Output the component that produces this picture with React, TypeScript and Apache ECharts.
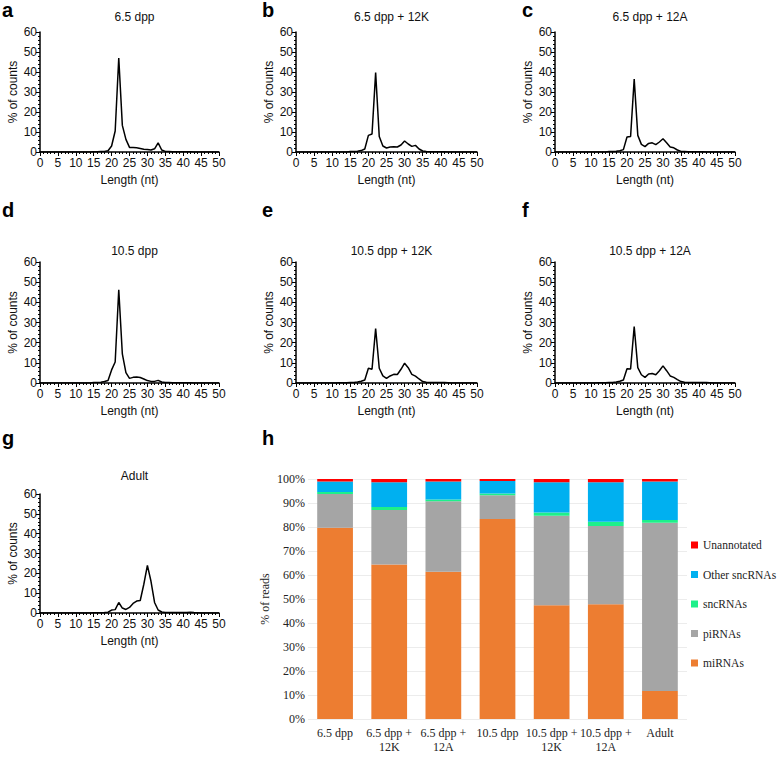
import React, { useEffect, useRef } from "react";
import * as echarts from "echarts";

// Length distribution panels (x = read length 0..50 nt)
const LENGTHS = [0,1,2,3,4,5,6,7,8,9,10,11,12,13,14,15,16,17,18,19,20,21,22,23,24,25,26,27,28,29,30,31,32,33,34,35,36,37,38,39,40,41,42,43,44,45,46,47,48,49,50];
const X_TICKS = [0, 5, 10, 15, 20, 25, 30, 35, 40, 45, 50];
const Y_TICKS = [0, 10, 20, 30, 40, 50, 60];

const PANEL_TITLES = ["6.5 dpp", "6.5 dpp + 12K", "6.5 dpp + 12A", "10.5 dpp", "10.5 dpp + 12K", "10.5 dpp + 12A", "Adult"];
const PANEL_LETTERS = ["a", "b", "c", "d", "e", "f", "g"];

const A_6_5 = [0,0,0,0,0,0,0,0,0,0, 0,0,0,0,0,0.1,0.1,0.2,0.3,0.6, 3,10.5,47,13.3,6.3,2.3,2.2,2.1,1.8,1.4, 1.2,1,1.6,4.6,1,0.3,0.2,0.1,0.1,0.1, 0.1,0.1,0.1,0,0,0,0,0,0,0, 0];
const B_6_5_12K = [0,0,0,0,0,0,0,0,0,0, 0,0,0,0,0,0.2,0.3,0.4,0.7,1.5, 8.3,9,39.7,7.7,3,2,2.5,2.6,2.5,3.5, 5.5,4,2.8,3.3,1.5,0.5,0.2,0.1,0.1,0.1, 0.1,0.1,0,0,0,0,0,0,0,0, 0];
const C_6_5_12A = [0,0,0,0,0,0,0,0,0,0, 0,0,0,0,0,0.2,0.3,0.4,0.6,1.2, 7.5,7.8,36.5,8.3,3.8,2.7,4.3,4.6,3.7,5, 6.6,4.6,2.5,2.1,1,0.3,0.2,0.1,0.1,0.1, 0.1,0.1,0,0,0,0,0,0,0,0, 0];
const D_10_5 = [0,0,0,0,0,0,0,0,0,0, 0,0,0,0,0,0.2,0.3,0.4,0.7,1.2, 6.5,10.4,46.2,14.4,5.1,2.3,2.8,3,2.7,2, 1.2,0.8,0.8,1.3,0.5,0.3,0.2,0.1,0.1,0.1, 0.1,0.1,0.1,0,0,0,0,0,0,0, 0];
const E_10_5_12K = [0,0,0,0,0,0,0,0,0,0, 0,0,0.1,0.1,0.1,0.2,0.3,0.5,0.9,1.5, 7.3,6.8,27,7.3,3.5,2.3,3.5,4.3,4.2,6.8, 9.8,7.6,4.3,3.4,2,0.7,0.4,0.3,0.2,0.2, 0.2,0.2,0.1,0,0,0,0,0,0,0, 0];
const F_10_5_12A = [0,0,0,0,0,0,0,0,0,0, 0,0,0.1,0.1,0.1,0.2,0.3,0.5,0.9,1.5, 7.1,7,28,7.6,4.1,2.8,4.5,4.7,4.1,6.1, 8.5,6.1,3.5,2.8,1.7,0.7,0.4,0.3,0.2,0.2, 0.2,0.2,0.2,0.1,0,0,0,0,0,0, 0];
const G_ADULT = [0,0,0,0,0,0,0,0,0,0, 0,0,0,0,0,0.1,0.1,0.1,0.2,0.4, 1.5,1.7,5.3,2.5,1.8,2.8,4.8,6,6.3,14.5, 24,16,5.3,1.5,0.5,0.3,0.2,0.2,0.2,0.2, 0.2,0.2,0.4,0.2,0.1,0,0,0,0,0, 0];
const LINE_SERIES = [A_6_5, B_6_5_12K, C_6_5_12A, D_10_5, E_10_5_12K, F_10_5_12A, G_ADULT];

// Panel h: stacked composition (% of reads)
const SAMPLES = ["6.5 dpp", "6.5 dpp +\n12K", "6.5 dpp +\n12A", "10.5 dpp", "10.5 dpp +\n12K", "10.5 dpp +\n12A", "Adult"];
const MIRNAS = [79.7, 64.4, 61.4, 83.3, 47.4, 47.8, 11.7];
const PIRNAS = [14.1, 22.7, 29.3, 9.9, 37.3, 32.6, 70.1];
const SNCRNAS = [0.8, 1.2, 0.8, 0.8, 1.3, 1.8, 1.1];
const OTHER_SNCRNAS = [4.4, 10.3, 7.5, 5.2, 12.6, 16.4, 16.1];
const UNANNOTATED = [1.0, 1.4, 1.0, 0.8, 1.4, 1.4, 1.0];
const STACK_NAMES = ["miRNAs", "piRNAs", "sncRNAs", "Other sncRNAs", "Unannotated"];
const STACK_COLORS = ["#ED7D31", "#A5A5A5", "#1EF08A", "#00B0F0", "#FF0000"];
const STACK_VALUES = [MIRNAS, PIRNAS, SNCRNAS, OTHER_SNCRNAS, UNANNOTATED];

const SANS = "Liberation Sans, Arial, sans-serif";
const SERIF = "Liberation Serif, Times New Roman, serif";

// Layout of the seven line panels
const GRIDS = [
  { left: 40, top: 32, width: 179, height: 120 },
  { left: 296, top: 32, width: 181, height: 120 },
  { left: 555, top: 32, width: 180, height: 120 },
  { left: 40, top: 262, width: 179, height: 121 },
  { left: 296, top: 262, width: 181, height: 121 },
  { left: 555, top: 262, width: 180, height: 121 },
  { left: 40, top: 494, width: 179, height: 119 },
];
const TITLE_Y = [6, 6, 6, 240, 240, 240, 465];
const LETTER_POS = [
  { x: 2, y: 0 }, { x: 262, y: 0 }, { x: 522, y: 0 },
  { x: 2, y: 200 }, { x: 262, y: 200 }, { x: 522, y: 200 },
  { x: 2, y: 428 },
];

export default function App() {
  const ref = useRef<HTMLDivElement>(null);
  useEffect(() => {
    document.body.style.margin = "0";
    if (!ref.current) return;
    const chart = echarts.init(ref.current, null, { renderer: "svg" });

    const grid: any[] = [];
    const xAxis: any[] = [];
    const yAxis: any[] = [];
    const series: any[] = [];
    const title: any[] = [];
    const graphic: any[] = [];

    GRIDS.forEach((g, i) => {
      grid.push({ ...g });
      xAxis.push({
        type: "value",
        gridIndex: i,
        min: X_TICKS[0],
        max: X_TICKS[X_TICKS.length - 1],
        interval: 5,
        name: "Length (nt)",
        nameLocation: "middle",
        nameGap: 22,
        nameTextStyle: { fontFamily: SANS, fontSize: 12, color: "#111" },
        axisLine: { lineStyle: { color: "#000", width: 1.5 } },
        axisTick: { length: 4, lineStyle: { color: "#000", width: 1 } },
        minorTick: { show: true, splitNumber: 5, length: 2, lineStyle: { color: "#000", width: 1 } },
        axisLabel: { fontFamily: SANS, fontSize: 12, color: "#111", margin: 5 },
        splitLine: { show: false },
      });
      yAxis.push({
        type: "value",
        gridIndex: i,
        min: Y_TICKS[0],
        max: Y_TICKS[Y_TICKS.length - 1],
        interval: 10,
        name: "% of counts",
        nameLocation: "middle",
        nameGap: 21,
        nameTextStyle: { fontFamily: SANS, fontSize: 12, color: "#111" },
        axisLine: { show: true, lineStyle: { color: "#000", width: 1.5 } },
        axisTick: { show: true, length: 4, lineStyle: { color: "#000", width: 1 } },
        minorTick: { show: true, splitNumber: 5, length: 2, lineStyle: { color: "#000", width: 1 } },
        axisLabel: { fontFamily: SANS, fontSize: 12, color: "#111", margin: 3 },
        splitLine: { show: false },
      });
      series.push({
        type: "line",
        xAxisIndex: i,
        yAxisIndex: i,
        data: LENGTHS.map((x, k) => [x, LINE_SERIES[i][k]]),
        showSymbol: false,
        symbol: "none",
        lineStyle: { color: "#000", width: 1.5 },
        silent: true,
      });
      title.push({
        text: PANEL_TITLES[i],
        left: g.left + g.width / 2,
        top: TITLE_Y[i],
        textAlign: "center",
        textStyle: { fontFamily: SANS, fontSize: 12, fontWeight: "normal", color: "#111" },
      });
      graphic.push({
        type: "text",
        left: LETTER_POS[i].x,
        top: LETTER_POS[i].y,
        style: { text: PANEL_LETTERS[i], font: "bold 20px " + SANS, fill: "#000" },
      });
    });

    // Panel h
    const hi = GRIDS.length;
    grid.push({ left: 308, top: 479, width: 379, height: 240 });
    xAxis.push({
      type: "category",
      gridIndex: hi,
      data: SAMPLES,
      axisLine: { show: false },
      axisTick: { show: false },
      axisLabel: { fontFamily: SERIF, fontSize: 12, color: "#222", margin: 7, lineHeight: 14, interval: 0 },
    });
    yAxis.push({
      type: "value",
      gridIndex: hi,
      min: 0,
      max: 100,
      interval: 10,
      name: "% of reads",
      nameLocation: "middle",
      nameGap: 37,
      nameTextStyle: { fontFamily: SERIF, fontSize: 12, color: "#222" },
      axisLine: { show: false },
      axisTick: { show: false },
      axisLabel: { fontFamily: SERIF, fontSize: 12, color: "#222", formatter: "{value}%", margin: 3 },
      splitLine: { show: true, lineStyle: { color: "#ececec", width: 1 } },
    });
    STACK_NAMES.forEach((name, s) => {
      series.push({
        type: "bar",
        name,
        xAxisIndex: hi,
        yAxisIndex: hi,
        stack: "reads",
        barWidth: "66%",
        data: STACK_VALUES[s],
        itemStyle: { color: STACK_COLORS[s] },
        silent: true,
      });
    });
    graphic.push({
      type: "text",
      left: 262,
      top: 428,
      style: { text: "h", font: "bold 20px " + SANS, fill: "#000" },
    });

    chart.setOption({
      animation: false,
      backgroundColor: "#fff",
      title,
      grid,
      xAxis,
      yAxis,
      series,
      graphic,
      legend: {
        orient: "vertical",
        left: 691,
        top: 539,
        padding: 0,
        itemWidth: 7,
        itemHeight: 7,
        itemGap: 17.5,
        icon: "rect",
        data: ["Unannotated", "Other sncRNAs", "sncRNAs", "piRNAs", "miRNAs"],
        textStyle: { fontFamily: SERIF, fontSize: 11.5, color: "#222" },
        selectedMode: false,
      },
    });
    return () => chart.dispose();
  }, []);
  return <div ref={ref} style={{ width: 778, height: 766 }} />;
}
